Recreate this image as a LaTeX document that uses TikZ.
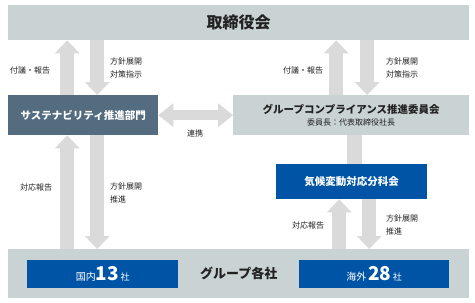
\documentclass[tikz,border=0pt]{standalone}
\usepackage{fontspec}
\setmainfont{Noto Sans CJK JP}
\usetikzlibrary{arrows.meta}
\definecolor{barcol}{RGB}{201,211,211}
\definecolor{deptcol}{RGB}{84,108,128}
\definecolor{bluecol}{RGB}{0,84,166}
\definecolor{arrowcol}{RGB}{218,218,218}
\definecolor{txtcol}{RGB}{34,34,34}

\begin{document}
\begin{tikzpicture}[x=1pt, y=-1pt,
  box/.style={anchor=north west, inner sep=0pt, align=center},
  lbl/.style={anchor=west, inner sep=0pt, align=left, text=txtcol,
    font=\fontsize{8}{13}\selectfont},
  flow/.style={draw=arrowcol, line width=14pt,
    -{Triangle[length=13pt, width=25pt, line width=0pt 0]}},
  link/.style={draw=arrowcol, line width=10pt,
    {Triangle[length=15pt, width=24pt, line width=0pt 0]}-{Triangle[length=15pt, width=24pt, line width=0pt 0]}}]
  \useasboundingbox (0,0) rectangle (475,303);
  % --- Boxes ---
  \node[box, fill=barcol, minimum width=461pt, minimum height=35pt,
    font=\fontsize{16}{18}\selectfont\bfseries, text=txtcol] (board) at (8,5) {取締役会};
  \node[box, fill=deptcol, minimum width=150pt, minimum height=40pt,
    font=\fontsize{10.5}{12}\selectfont\bfseries, text=white] (dept) at (8,95) {サステナビリティ推進部門};
  \node[box, fill=barcol, minimum width=236pt, minimum height=40pt, text=txtcol] (committee) at (233,95)
    {{\fontsize{10.5}{15}\selectfont\bfseries グループコンプライアンス推進委員会}\\
     {\fontsize{8}{10}\selectfont 委員長：代表取締役社長}};
  \node[box, fill=bluecol, minimum width=151pt, minimum height=35pt,
    font=\fontsize{10.5}{12}\selectfont\bfseries, text=white] (climate) at (276,164) {気候変動対応分科会};
  \node[box, fill=barcol, minimum width=461pt, minimum height=49pt,
    font=\fontsize{13}{15}\selectfont\bfseries, text=txtcol] (group) at (8,249) {グループ各社};
  \node[box, fill=bluecol, minimum width=151pt, minimum height=28pt, text=white] (domestic) at (27,260)
    {{\fontsize{10}{12}\selectfont 国内}{\fontsize{19}{20}\selectfont\bfseries 13}\,{\fontsize{9}{12}\selectfont 社}};
  \node[box, fill=bluecol, minimum width=150pt, minimum height=28pt, text=white] (overseas) at (299,260)
    {{\fontsize{10}{12}\selectfont 海外}\,{\fontsize{19}{20}\selectfont\bfseries 28}\,{\fontsize{9}{12}\selectfont 社}};
  % --- Arrows: board <-> dept ---
  \draw[flow] ([xshift=-16pt]dept.north) -- ([xshift=-16pt]dept.north |- board.south);
  \draw[flow] ([xshift=14pt]dept.north |- board.south) -- ([xshift=14pt]dept.north);
  % --- Arrows: board <-> committee ---
  \draw[flow] ([xshift=-15pt]committee.north) -- ([xshift=-15pt]committee.north |- board.south);
  \draw[flow] ([xshift=16pt]committee.north |- board.south) -- ([xshift=16pt]committee.north);
  % --- Link between dept and committee ---
  \draw[link] (dept.east) -- (committee.west);
  \draw[draw=arrowcol, line width=15pt] ([xshift=3.5pt]committee.south) -- ([xshift=3.5pt]committee.south |- climate.north);
  % --- Arrows: dept <-> group ---
  \draw[flow] ([xshift=-16pt]dept.south |- group.north) -- ([xshift=-16pt]dept.south);
  \draw[flow] ([xshift=14pt]dept.south) -- ([xshift=14pt]dept.south |- group.north);
  % --- Arrows: climate <-> group ---
  \draw[flow] ([xshift=-12.5pt]climate.south |- group.north) -- ([xshift=-12.5pt]climate.south);
  \draw[flow] ([xshift=17.5pt]climate.south) -- ([xshift=17.5pt]climate.south |- group.north);
  % --- Labels ---
  \node[lbl] (up1) at (10,70) {付議・報告};
  \node[lbl] (down1) at (110,68) {方針展開\\対策指示};
  \node[lbl] (up2) at (283,70) {付議・報告};
  \node[lbl] (down2) at (386,68) {方針展開\\対策指示};
  \node[lbl, anchor=center] (coop) at (195,133) {連携};
  \node[lbl] (up3) at (20,187) {対応報告};
  \node[lbl] (down3) at (110,193) {方針展開\\推進};
  \node[lbl] (up4) at (292,225) {対応報告};
  \node[lbl] (down4) at (386,225) {方針展開\\推進};
\end{tikzpicture}
\end{document}
